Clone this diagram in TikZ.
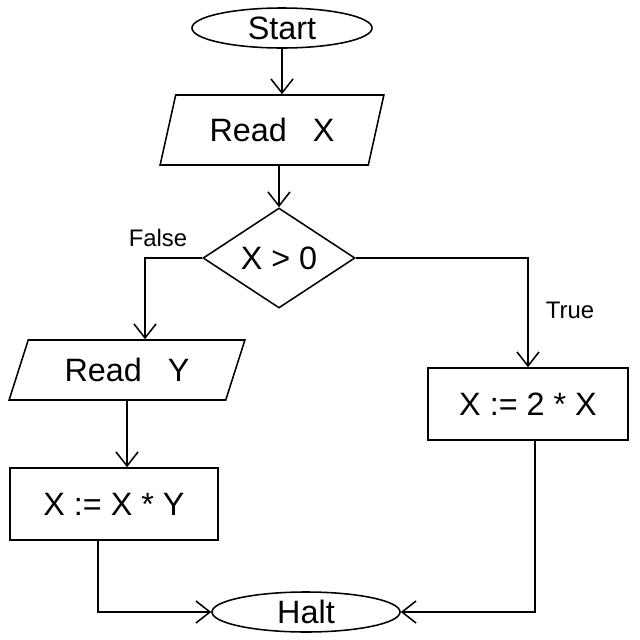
\documentclass[tikz,border=0pt]{standalone}
\usepackage{fontspec}
\setmainfont{Liberation Sans}
\usetikzlibrary{shapes.geometric,arrows.meta,positioning}
\begin{document}
\begin{tikzpicture}[x=0.025cm,y=-0.025cm,
  every node/.style={font=\fontsize{23}{27}\selectfont},
  base/.style={draw,line width=1.1pt,inner sep=0pt},
  term/.style={base,ellipse},
  io/.style={base,trapezium,trapezium stretches=true},
  proc/.style={base,rectangle},
  cond/.style={base,diamond},
  arr/.style={line width=1.1pt,-{Straight Barb[length=3.5mm,width=5.5mm,line width=1.1pt]}},
  ln/.style={line width=1.1pt},
  lbl/.style={font=\fontsize{17}{20}\selectfont}]
\useasboundingbox (0,0) rectangle (640,640);
\node[term,minimum width=4.5cm,minimum height=1cm] (start) at (282,28) {Start};
\node[io,trapezium left angle=67,trapezium right angle=113,minimum width=5.6cm,minimum height=1.75cm] (readx) at (272,130) {Read\hspace{0.8em}X};
\node[cond,minimum width=3.8cm,minimum height=2.5cm] (dia) at (279,258) {X > 0};
\node[io,trapezium left angle=63,trapezium right angle=117,minimum width=5.9cm,minimum height=1.5cm] (ready) at (127,370) {Read\hspace{0.8em}Y};
\node[proc,minimum width=5.2cm,minimum height=1.8cm] (xy) at (114,504) {X := X * Y};
\node[proc,minimum width=5cm,minimum height=1.8cm] (x2) at (528,404) {X := 2 * X};
\node[term,minimum width=4.7cm,minimum height=1cm] (halt) at (306,612) {Halt};
\coordinate (fdown) at ([xshift=0.45cm]ready.north);
\draw[arr] (start.south) -- (start.south |- readx.north);
\draw[arr] (dia.north |- readx.south) -- (dia.north);
\draw[arr] (dia.west) -| (fdown);
\draw[arr] (dia.east) -| (x2.north);
\draw[arr] (ready.south) -- (ready.south |- xy.north);
\draw[arr] ([xshift=-0.4cm]xy.south) |- (halt.west);
\draw[arr] ([xshift=0.18cm]x2.south) |- (halt.east);
\node[lbl] (flbl) at (158,238) {False};
\node[lbl] (tlbl) at (570,310) {True};
\end{tikzpicture}
\end{document}
